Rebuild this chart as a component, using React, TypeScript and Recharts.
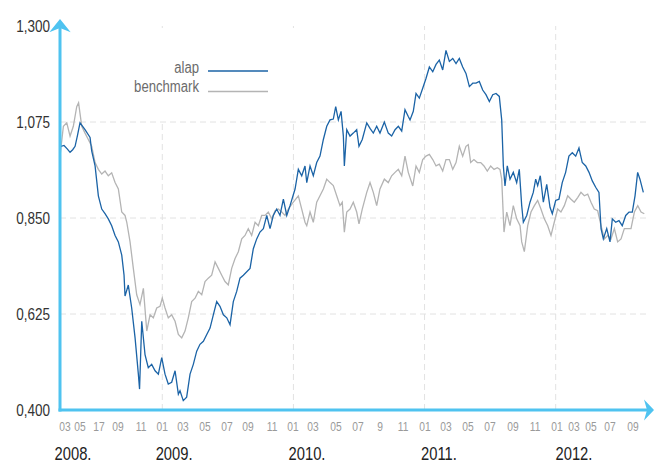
import { LineChart, Line, XAxis, YAxis, ReferenceLine, ReferenceDot, Legend } from 'recharts'

const FONT = "'Liberation Sans', Arial, sans-serif"
const AXIS = '#4fc3f0'
const ALAP = '#1b63a6'
const BENCH = '#b4b4b4'
const GRID = '#e2e2e2'

// x values are months counted from Jan 2008 (12 = Jan 2009)
const xMin = 2.64
const xMax = 56.63

const alapT = [
  2.64, 3.01, 3.3, 3.56, 3.8, 4.02, 4.25, 4.47, 4.93, 5.39, 5.54, 5.85, 6.15, 6.46, 6.76, 7.06, 7.37,
  7.68, 7.98, 8.29, 8.5, 8.59, 8.89, 9.2, 9.51, 9.81, 9.92, 10.12, 10.42, 10.72, 11.03, 11.34, 11.64, 11.95,
  12.25, 12.55, 12.86, 13.17, 13.47, 13.62, 13.92, 14.23, 14.54, 14.84, 15.15, 15.45, 15.76, 16.07, 16.37,
  16.67, 16.98, 17.28, 17.59, 17.9, 18.2, 18.5, 18.81, 19.11, 19.42, 19.73, 20.03, 20.33, 20.64, 20.94,
  21.25, 21.56, 21.86, 22.16, 22.47, 22.77, 23.08, 23.39, 23.69,
  24.15, 24.45, 24.76, 25.06, 25.22, 25.52, 25.82, 26.13, 26.43, 26.74, 27.05, 27.35, 27.65, 27.87, 28.11,
  28.36, 28.57, 28.66, 28.88, 29.18, 29.48, 29.79, 30.0, 30.3, 30.71, 31.01, 31.31, 31.62, 31.92, 32.32,
  32.68, 32.99, 33.3, 33.6, 33.91, 34.21, 34.51, 34.67, 34.97, 35.22, 35.52, 35.83,
  36.13, 36.44, 36.75, 37.05, 37.35, 37.66, 37.96, 38.27, 38.58, 38.88, 39.18, 39.49, 39.79, 40.1, 40.41,
  40.71, 41.01, 41.32, 41.62, 41.93, 42.24, 42.54, 42.84, 43.06, 43.21, 43.36, 43.57, 43.82, 44.12, 44.43,
  44.67, 44.89, 45.04, 45.35, 45.65, 45.95, 46.17, 46.35, 46.59, 46.87, 47.18, 47.48, 47.69,
  48.0, 48.3, 48.6, 48.91, 49.21, 49.52, 49.83, 50.13, 50.43, 50.75, 51.05, 51.35, 51.66, 51.96, 52.15,
  52.36, 52.67, 52.97, 53.18, 53.49, 53.79, 54.09, 54.41, 54.71, 55.01, 55.26, 55.5, 55.71, 56.02,
]
const alapV = [
  1.017, 1.02, 1.012, 1.004, 1.01, 1.018, 1.045, 1.073, 1.057, 1.039, 1.007, 0.972, 0.902, 0.871, 0.86, 0.848, 0.832,
  0.809, 0.794, 0.763, 0.716, 0.667, 0.693, 0.639, 0.569, 0.484, 0.449, 0.608, 0.53, 0.499, 0.507, 0.492, 0.484, 0.523,
  0.484, 0.461, 0.465, 0.492, 0.437, 0.445, 0.422, 0.43, 0.484, 0.507, 0.538, 0.554, 0.561, 0.577, 0.592,
  0.623, 0.654, 0.643, 0.623, 0.616, 0.6, 0.654, 0.678, 0.709, 0.716, 0.724, 0.732, 0.778, 0.801, 0.817,
  0.825, 0.856, 0.825, 0.856, 0.871, 0.856, 0.894, 0.856, 0.879,
  0.918, 0.964, 0.949, 0.972, 0.933, 0.972, 0.949, 0.98, 0.995, 1.034, 1.065, 1.08, 1.082, 1.111, 1.08,
  1.1, 1.042, 0.972, 1.057, 1.042, 1.049, 1.057, 1.018, 1.034, 1.073, 1.06, 1.049, 1.065, 1.049, 1.075,
  1.049, 1.042, 1.057, 1.065, 1.054, 1.104, 1.088, 1.08, 1.1, 1.142, 1.131, 1.154,
  1.177, 1.204, 1.193, 1.21, 1.22, 1.197, 1.243, 1.217, 1.224, 1.212, 1.224, 1.204, 1.189, 1.158, 1.166,
  1.166, 1.17, 1.15, 1.139, 1.123, 1.139, 1.142, 1.135, 1.08, 0.972, 0.925, 0.972, 0.941, 0.957, 0.933,
  0.964, 0.879, 0.84, 0.856, 0.887, 0.91, 0.941, 0.926, 0.949, 0.887, 0.929, 0.875, 0.86,
  0.891, 0.894, 0.933, 0.957, 0.995, 1.003, 0.995, 1.014, 0.98, 0.972, 0.957, 0.937, 0.922, 0.91, 0.825,
  0.801, 0.825, 0.794, 0.848, 0.84, 0.844, 0.832, 0.856, 0.864, 0.864, 0.902, 0.957, 0.941, 0.91,
]

const benchT = [
  2.64, 2.95, 3.26, 3.56, 3.86, 4.17, 4.34, 4.63, 4.93, 5.23, 5.54, 5.85, 6.15, 6.46, 6.76, 7.06, 7.37,
  7.68, 7.98, 8.29, 8.59, 8.75, 9.05, 9.35, 9.66, 9.96, 10.27, 10.58, 10.88, 11.18, 11.49, 11.79,
  12.0, 12.25, 12.55, 12.86, 13.17, 13.47, 13.78, 14.08, 14.38, 14.69, 15.0, 15.3, 15.61, 15.91, 16.21,
  16.52, 16.83, 17.13, 17.44, 17.74, 18.04, 18.35, 18.66, 18.96, 19.27, 19.57, 19.87, 20.18, 20.49, 20.79,
  21.1, 21.4, 21.7, 22.02, 22.32, 22.62, 22.93, 23.23, 23.53,
  23.99, 24.45, 24.76, 25.06, 25.22, 25.52, 25.82, 26.13, 26.43, 26.74, 27.05, 27.35, 27.65, 27.96, 28.26,
  28.47, 28.66, 28.88, 29.18, 29.48, 29.79, 30.0, 30.3, 30.71, 31.01, 31.31, 31.62, 31.92, 32.32, 32.68,
  32.99, 33.3, 33.6, 33.91, 34.21, 34.51, 34.92, 35.22, 35.52, 35.83,
  36.13, 36.44, 36.75, 37.05, 37.35, 37.66, 37.96, 38.27, 38.58, 38.88, 39.18, 39.49, 39.79, 40.0, 40.22,
  40.52, 40.83, 41.14, 41.44, 41.74, 42.05, 42.36, 42.66, 42.9, 43.06, 43.27, 43.52, 43.82, 44.12, 44.43,
  44.74, 44.89, 45.13, 45.44, 45.74, 46.05, 46.35, 46.65, 46.96, 47.27, 47.57, 47.87,
  48.18, 48.48, 48.79, 49.1, 49.4, 49.7, 50.01, 50.31, 50.62, 50.93, 51.23, 51.53, 51.84, 52.15, 52.45,
  52.76, 53.06, 53.37, 53.67, 53.98, 54.28, 54.59, 54.89, 55.2, 55.51, 55.81, 56.11,
]
const benchV = [
  0.995, 1.065, 1.073, 1.042, 1.065, 1.111, 1.12, 1.065, 1.049, 1.034, 1.018, 0.98, 0.964, 0.953, 0.96, 0.949, 0.956,
  0.933, 0.918, 0.864, 0.856, 0.84, 0.794, 0.732, 0.67, 0.647, 0.685, 0.585, 0.623, 0.616, 0.639, 0.643,
  0.662, 0.639, 0.616, 0.623, 0.608, 0.577, 0.569, 0.585, 0.616, 0.654, 0.662, 0.678, 0.67, 0.701, 0.709,
  0.716, 0.747, 0.732, 0.716, 0.701, 0.693, 0.732, 0.755, 0.771, 0.801, 0.809, 0.825, 0.809, 0.84, 0.832,
  0.856, 0.856, 0.864, 0.848, 0.867, 0.871, 0.864, 0.856, 0.871,
  0.887, 0.902, 0.871, 0.84, 0.832, 0.864, 0.84, 0.887, 0.902, 0.918, 0.941, 0.933, 0.926, 0.902, 0.879,
  0.887, 0.817, 0.864, 0.871, 0.887, 0.864, 0.836, 0.871, 0.91, 0.933, 0.91, 0.879, 0.918, 0.941, 0.933,
  0.949, 0.957, 0.964, 0.949, 0.995, 0.957, 0.925, 0.972, 0.957, 0.987,
  0.995, 0.999, 0.987, 0.972, 0.976, 0.96, 0.987, 0.987, 0.964, 0.98, 1.018, 0.995, 1.018, 1.022, 0.98,
  0.987, 0.98, 0.98, 0.972, 0.96, 0.972, 0.964, 0.968, 0.964, 0.941, 0.817, 0.864, 0.832, 0.879, 0.848,
  0.832, 0.794, 0.771, 0.832, 0.864, 0.879, 0.891, 0.871, 0.848, 0.832, 0.809, 0.84,
  0.871, 0.864, 0.879, 0.902, 0.894, 0.887, 0.898, 0.91, 0.902, 0.906, 0.887, 0.871, 0.867, 0.832, 0.801,
  0.809, 0.801, 0.825, 0.794, 0.801, 0.825, 0.825, 0.825, 0.864, 0.879, 0.864, 0.86,
]

const yTicks = [0.4, 0.625, 0.85, 1.075, 1.3]
const gridY = [0.625, 0.85, 1.075]
const yearStarts = [12, 24, 36, 48]

const monthTicks = [
  3.1, 4.47, 6.21, 7.95, 10.06, 12, 13.9, 15.91, 17.92, 19.85, 22.04, 23.96, 25.79, 27.9, 29.9, 31.92,
  34.03, 36.04, 37.96, 39.97, 41.99, 44.09, 46.11, 48.12, 49.67, 51.23, 52.97, 55.07,
]
const monthLabels = [
  '03', '05', '17', '09', '11', '01', '03', '05', '07', '09', '11', '01', '03', '05', '07', '9',
  '11', '01', '03', '05', '07', '09', '11', '01', '03', '05', '07', '09',
]
const yearTicks = [3.83, 13.08, 25.24, 37.32, 49.67]
const yearLabels = ['2008.', '2009.', '2010.', '2011.', '2012.']

const fmt = (v: number) => v.toFixed(3).replace('.', ',')

// Arial Narrow look: regular sans squeezed horizontally
function NarrowText({ x, y, size, anchor, fill, children }: any) {
  return (
    <text
      transform={`translate(${x},${y}) scale(0.82,1)`}
      textAnchor={anchor}
      fontFamily={FONT}
      fontSize={size}
      fill={fill}
    >
      {children}
    </text>
  )
}

function LegendBox() {
  return (
    <svg width={190} height={93} style={{ display: 'block', background: '#fff' }}>
      <NarrowText x={89} y={45} size={16} anchor="end" fill="#6b6b6b">alap</NarrowText>
      <line x1={98} x2={158} y1={43} y2={43} stroke={ALAP} strokeWidth={1.5} />
      <NarrowText x={89} y={64} size={16} anchor="end" fill="#6b6b6b">benchmark</NarrowText>
      <line x1={98} x2={158} y1={63.5} y2={63.5} stroke={BENCH} strokeWidth={1.5} />
    </svg>
  )
}

export default function App() {
  const alapData = alapT.map((t, i) => ({ t, v: alapV[i] }))
  const benchData = benchT.map((t, i) => ({ t, v: benchV[i] }))

  return (
    <div style={{ position: 'absolute', left: 0, top: 0, background: '#fff' }}>
      <LineChart width={654} height={463} margin={{ top: 26, right: 4, bottom: 0, left: 0 }}>
        <XAxis
          xAxisId="m"
          type="number"
          dataKey="t"
          domain={[xMin, xMax]}
          allowDataOverflow
          ticks={monthTicks}
          interval={0}
          height={22}
          tickSize={0}
          tickMargin={0}
          tickLine={false}
          axisLine={{ stroke: AXIS, strokeWidth: 3, strokeLinecap: 'square' }}
          tick={(p: any) => (
            <NarrowText x={p.x} y={p.y + 20.5} size={12.5} anchor="middle" fill="#9a9a9a">
              {monthLabels[monthTicks.indexOf(p.payload.value)]}
            </NarrowText>
          )}
        />
        <XAxis
          xAxisId="y"
          type="number"
          dataKey="t"
          domain={[xMin, xMax]}
          allowDataOverflow
          ticks={yearTicks}
          interval={0}
          height={31}
          tickSize={0}
          tickMargin={0}
          tickLine={false}
          axisLine={false}
          tick={(p: any) => (
            <NarrowText x={p.x} y={p.y + 27.5} size={18} anchor="middle" fill="#222">
              {yearLabels[yearTicks.indexOf(p.payload.value)]}
            </NarrowText>
          )}
        />
        <YAxis
          type="number"
          domain={[0.4, 1.3]}
          ticks={yTicks}
          interval={0}
          width={60}
          tickSize={0}
          tickMargin={10}
          tickLine={false}
          axisLine={{ stroke: AXIS, strokeWidth: 3, strokeLinecap: 'square' }}
          tick={(p: any) => (
            <NarrowText x={p.x} y={p.y + 6} size={16.5} anchor="end" fill="#333">
              {fmt(p.payload.value)}
            </NarrowText>
          )}
        />
        {gridY.map((v) => (
          <ReferenceLine key={'h' + v} xAxisId="m" y={v} stroke={GRID} strokeDasharray="6 4" />
        ))}
        {yearStarts.map((v) => (
          <ReferenceLine key={'v' + v} xAxisId="m" x={v} stroke={GRID} strokeDasharray="6 4" />
        ))}
        <Legend
          layout="vertical"
          align="center"
          verticalAlign="middle"
          wrapperStyle={{ left: 110, top: 28, width: 190, height: 93 }}
          content={() => <LegendBox />}
        />
        <Line
          xAxisId="m"
          data={benchData}
          dataKey="v"
          name="benchmark"
          type="linear"
          stroke={BENCH}
          strokeWidth={1.3}
          dot={false}
          activeDot={false}
          isAnimationActive={false}
        />
        <Line
          xAxisId="m"
          data={alapData}
          dataKey="v"
          name="alap"
          type="linear"
          stroke={ALAP}
          strokeWidth={1.3}
          dot={false}
          activeDot={false}
          isAnimationActive={false}
        />
        <ReferenceDot
          xAxisId="m"
          x={xMin}
          y={1.3}
          ifOverflow="visible"
          shape={(p: any) => (
            <polygon
              points={`${p.cx},${p.cy - 7} ${p.cx + 10.7},${p.cy + 6.3} ${p.cx},${p.cy + 2} ${p.cx - 10.7},${p.cy + 6.3}`}
              fill={AXIS}
            />
          )}
        />
        <ReferenceDot
          xAxisId="m"
          x={xMax}
          y={0.4}
          ifOverflow="visible"
          shape={(p: any) => (
            <polygon
              points={`${p.cx + 4},${p.cy} ${p.cx - 6},${p.cy - 10.5} ${p.cx - 3},${p.cy} ${p.cx - 6},${p.cy + 10.5}`}
              fill={AXIS}
            />
          )}
        />
      </LineChart>
    </div>
  )
}
